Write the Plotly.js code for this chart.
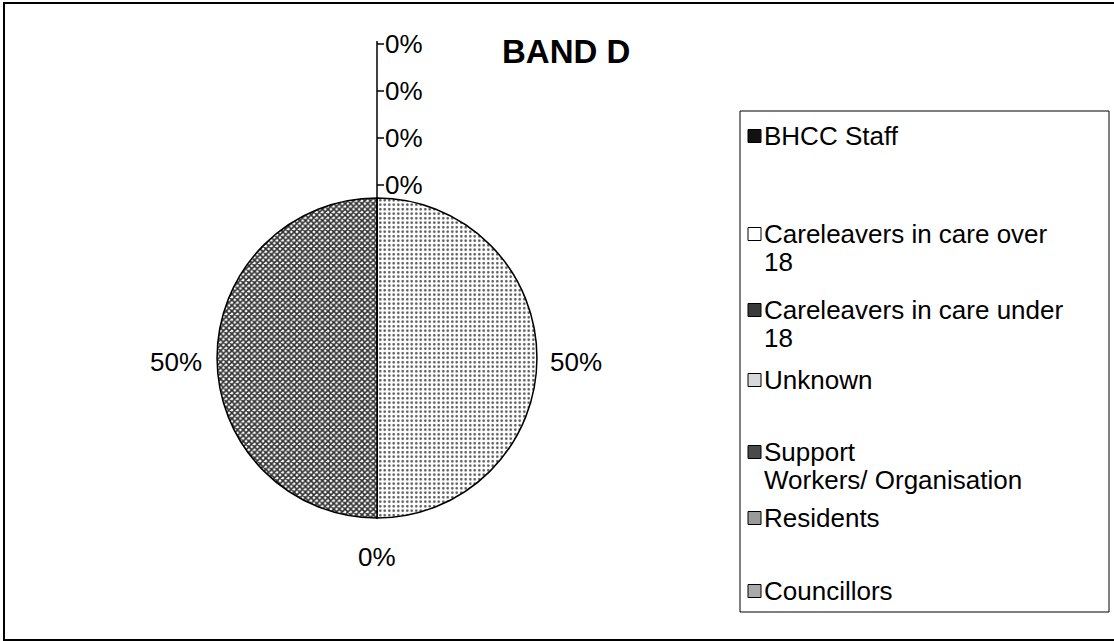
<!DOCTYPE html>
<html>
<head>
<meta charset="utf-8">
<script src="https://cdn.plot.ly/plotly-3.0.1.min.js"></script>
<style>
html,body{margin:0;padding:0;background:#fff;}
#chart{width:1114px;height:641px;}
</style>
</head>
<body>
<div id="chart"></div>
<script>
// ---- data ----
const categories = ["BHCC Staff", "Careleavers in care over 18", "Careleavers in care under 18", "Unknown", "Support Workers/ Organisation", "Residents", "Councillors"];
const legendLabels = ["BHCC Staff", "Careleavers in care over<br>18", "Careleavers in care under<br>18", "Unknown", "Support<br>Workers/ Organisation", "Residents", "Councillors"];
const values = [0, 0, 0, 1, 0, 1, 0];
const chartTitle = "BAND D";

// ---- styles ----
const patterns = [
  {shape: ".", fgcolor: "#ffffff", bgcolor: "#000000", size: 6, solidity: 0.15},
  {shape: ".", fgcolor: "#000000", bgcolor: "#ffffff", size: 8, solidity: 0.05},
  {shape: ".", fgcolor: "#ffffff", bgcolor: "#303030", size: 4, solidity: 0.3},
  {shape: ".", fgcolor: "#505050", bgcolor: "#ffffff", size: 4.5, solidity: 0.25},
  {shape: ".", fgcolor: "#ffffff", bgcolor: "#404040", size: 4, solidity: 0.3},
  {shape: "x", fgcolor: "#303030", bgcolor: "#ffffff", size: 4, solidity: 0.65},
  {shape: "\\", fgcolor: "#555555", bgcolor: "#ffffff", size: 4, solidity: 0.4}
];
const legendFill = ["#111111", "#ffffff", "#3a3a3a", "#d8d8d8", "#4a4a4a", "#9a9a9a", "#aaaaaa"];

const W = 1114, H = 641;
const px = x => x / W;
const py = y => 1 - y / H;

// pie geometry (pixels)
const cx = 377, cy = 358, r = 160;

const total = values.reduce((a, b) => a + b, 0);
const pct = values.map(v => Math.round(v / total * 100) + "%");

const trace = {
  type: "pie",
  values: values,
  labels: categories,
  sort: false,
  direction: "clockwise",
  rotation: 0,
  textinfo: "none",
  hoverinfo: "label+percent",
  showlegend: false,
  domain: {x: [px(cx - r), px(cx + r)], y: [py(cy + r), py(cy - r)]},
  marker: {
    colors: patterns.map(p => p.bgcolor),
    line: {color: "#000000", width: 1.5},
    pattern: {
      shape: patterns.map(p => p.shape),
      fgcolor: patterns.map(p => p.fgcolor),
      bgcolor: patterns.map(p => p.bgcolor),
      size: patterns.map(p => p.size),
      solidity: patterns.map(p => p.solidity)
    }
  }
};

const shapes = [];
const annotations = [];
const font = {family: "Liberation Sans, Arial, sans-serif", size: 26, color: "#000"};

// outer border
shapes.push({type: "rect", xref: "paper", yref: "paper", x0: px(4), x1: px(1117), y0: py(640), y1: py(3),
  line: {color: "#000", width: 2}, fillcolor: "rgba(0,0,0,0)"});

// title
annotations.push({xref: "paper", yref: "paper", x: px(566), y: py(52), text: "<b>" + chartTitle + "</b>",
  showarrow: false, xanchor: "center", yanchor: "middle",
  font: {family: "Liberation Sans, Arial, sans-serif", size: 33, color: "#000"}});

// data labels: zero slices at top stacked with leader line
const topIdx = [0, 1, 2, 6];
const topY = [44, 91, 138, 185];
shapes.push({type: "line", xref: "paper", yref: "paper", x0: px(cx), x1: px(cx), y0: py(topY[0] - 3), y1: py(cy - r),
  line: {color: "#000", width: 1.5}});
topIdx.forEach((idx, k) => {
  shapes.push({type: "line", xref: "paper", yref: "paper", x0: px(cx), x1: px(cx + 7), y0: py(topY[k]), y1: py(topY[k]),
    line: {color: "#000", width: 1.5}});
  annotations.push({xref: "paper", yref: "paper", x: px(cx + 6), y: py(topY[k]), text: pct[idx],
    showarrow: false, xanchor: "left", yanchor: "middle", font: font});
});
// Unknown (right), Residents (left), Support (bottom)
annotations.push({xref: "paper", yref: "paper", x: px(548), y: py(362), text: pct[3], showarrow: false, xanchor: "left", yanchor: "middle", font: font});
annotations.push({xref: "paper", yref: "paper", x: px(204), y: py(362), text: pct[5], showarrow: false, xanchor: "right", yanchor: "middle", font: font});
annotations.push({xref: "paper", yref: "paper", x: px(cx), y: py(557), text: pct[4], showarrow: false, xanchor: "center", yanchor: "middle", font: font});

// legend box
shapes.push({type: "rect", xref: "paper", yref: "paper", x0: px(740), x1: px(1109), y0: py(612), y1: py(111),
  line: {color: "#000", width: 1}, fillcolor: "rgba(0,0,0,0)"});
const legY = [136, 234, 310, 380, 452, 518, 591];
const lineGap = 28;
categories.forEach((c, i) => {
  const y = legY[i];
  shapes.push({type: "rect", xref: "paper", yref: "paper", x0: px(748), x1: px(761), y0: py(y + 6.5), y1: py(y - 6.5),
    line: {color: "#000", width: 1}, fillcolor: legendFill[i]});
  legendLabels[i].split("<br>").forEach((ln, j) => {
    annotations.push({xref: "paper", yref: "paper", x: px(762), y: py(y + j * lineGap), text: ln,
      showarrow: false, xanchor: "left", yanchor: "middle", align: "left", font: font});
  });
});

const layout = {
  width: W, height: H,
  margin: {l: 0, r: 0, t: 0, b: 0},
  paper_bgcolor: "#ffffff",
  showlegend: false,
  shapes: shapes,
  annotations: annotations
};

Plotly.newPlot("chart", [trace], layout, {displayModeBar: false, staticPlot: true});
</script>
</body>
</html>
